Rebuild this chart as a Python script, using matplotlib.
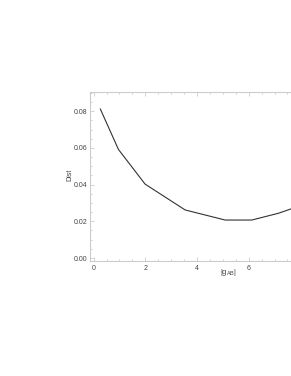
import matplotlib
matplotlib.use("Agg")
import matplotlib.pyplot as plt
from matplotlib.ticker import MultipleLocator

x_vals = [0.26, 0.96, 1.99, 3.54, 5.09, 6.12, 7.15, 8.2]
dist_vals = [0.0812, 0.0592, 0.0403, 0.0262, 0.0207, 0.0207, 0.0244, 0.0295]
x_ticks = [0, 2, 4, 6]
y_ticks = [0.00, 0.02, 0.04, 0.06, 0.08]

plt.rcParams['font.family'] = ['Liberation Sans', 'DejaVu Sans']
plt.rcParams['mathtext.fontset'] = 'custom'
plt.rcParams['mathtext.rm'] = 'Liberation Sans'
fig = plt.figure(figsize=(2.91, 3.76), dpi=100)
px_per_unit = 25.85
right_px = 330
ax = fig.add_axes([90/291, 1-261/376, (right_px-90)/291, (261-92)/376])
ax.plot(x_vals, dist_vals, color='#333333', lw=0.8)
ax.set_xlim(-0.14, -0.14 + (right_px-90)/px_per_unit)
ax.set_ylim(-0.00163, 0.0905)
ax.set_xticks(x_ticks)
ax.set_xticklabels([str(t) for t in x_ticks])
ax.set_yticks(y_ticks)
ax.set_yticklabels([f"{t:.2f}" for t in y_ticks])
ax.xaxis.set_minor_locator(MultipleLocator(0.5))
ax.yaxis.set_minor_locator(MultipleLocator(0.005))
for s in ['top', 'left', 'bottom']:
    ax.spines[s].set_color('#cccccc')
    ax.spines[s].set_linewidth(0.8)
ax.spines['right'].set_visible(False)
ax.tick_params(axis='both', which='both', direction='in', color='#cccccc', labelsize=5, labelcolor='#444444', top=True, width=0.6)
ax.tick_params(which='major', length=3)
ax.tick_params(which='minor', length=1.5)
ax.tick_params(axis='x', pad=3)
ax.tick_params(axis='y', pad=2)
fig.text(70/291, 1-175/376, 'Dist', rotation=90, fontsize=5, color='#444444', ha='center', va='center')
fig.text(228/291, 1-272/376, r'$|\mathrm{g}_{\mathrm{AB}}|$', fontsize=5.5, color='#444444', ha='center', va='center')
fig.savefig('out.png', dpi=100)
